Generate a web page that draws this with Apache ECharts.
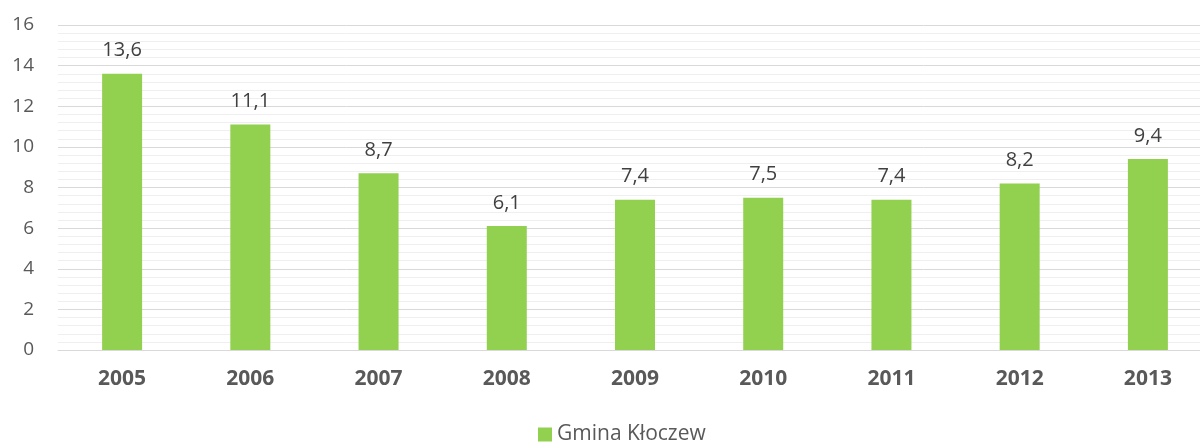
<!DOCTYPE html>
<html>
<head>
<meta charset="utf-8">
<script src="https://cdn.jsdelivr.net/npm/echarts@6/dist/echarts.min.js"></script>
<style>
  html, body { margin: 0; padding: 0; background: #fff; overflow: hidden; }
  #chart { width: 1212px; height: 442px; }
</style>
</head>
<body>
<div id="chart"></div>
<script>
const years = ['2005', '2006', '2007', '2008', '2009', '2010', '2011', '2012', '2013']
const values = [13.6, 11.1, 8.7, 6.1, 7.4, 7.5, 7.4, 8.2, 9.4]
const seriesName = 'Gmina Kłoczew'

// plot area runs past the right edge of the window, like the source image
const chart = echarts.init(document.getElementById('chart'))
chart.setOption({
  animation: false,
  textStyle: { fontFamily: '"Open Sans", sans-serif' },
  grid: { left: 58, right: 0, top: 25, bottom: 92 },
  legend: {
    top: 424,
    left: 538,
    padding: 0,
    itemWidth: 14,
    itemHeight: 14,
    itemGap: 6,
    icon: 'rect',
    textStyle: { fontSize: 21, color: '#595959' },
    data: [seriesName],
  },
  xAxis: {
    type: 'category',
    data: years,
    axisLine: { lineStyle: { color: '#d9d9d9', width: 1 } },
    axisTick: { show: false },
    axisLabel: { color: '#595959', fontSize: 21, fontWeight: 'bold', margin: 19 },
  },
  yAxis: {
    type: 'value',
    min: 0,
    max: 16,
    interval: 2,
    axisLine: { show: false },
    axisTick: { show: false },
    axisLabel: { color: '#595959', fontSize: 19, margin: 24 },
    splitLine: { lineStyle: { color: '#d9d9d9' } },
    minorTick: { show: false, splitNumber: 5 },
    minorSplitLine: { show: true, lineStyle: { color: '#efefef' } },
  },
  series: [{
    name: seriesName,
    type: 'bar',
    data: values,
    barWidth: 40,
    itemStyle: { color: '#92d050' },
    label: {
      show: true,
      position: 'top',
      distance: 13,
      color: '#404040',
      fontSize: 20,
      formatter: (p) => String(p.value).replace('.', ','),
    },
  }],
})
</script>
</body>
</html>
